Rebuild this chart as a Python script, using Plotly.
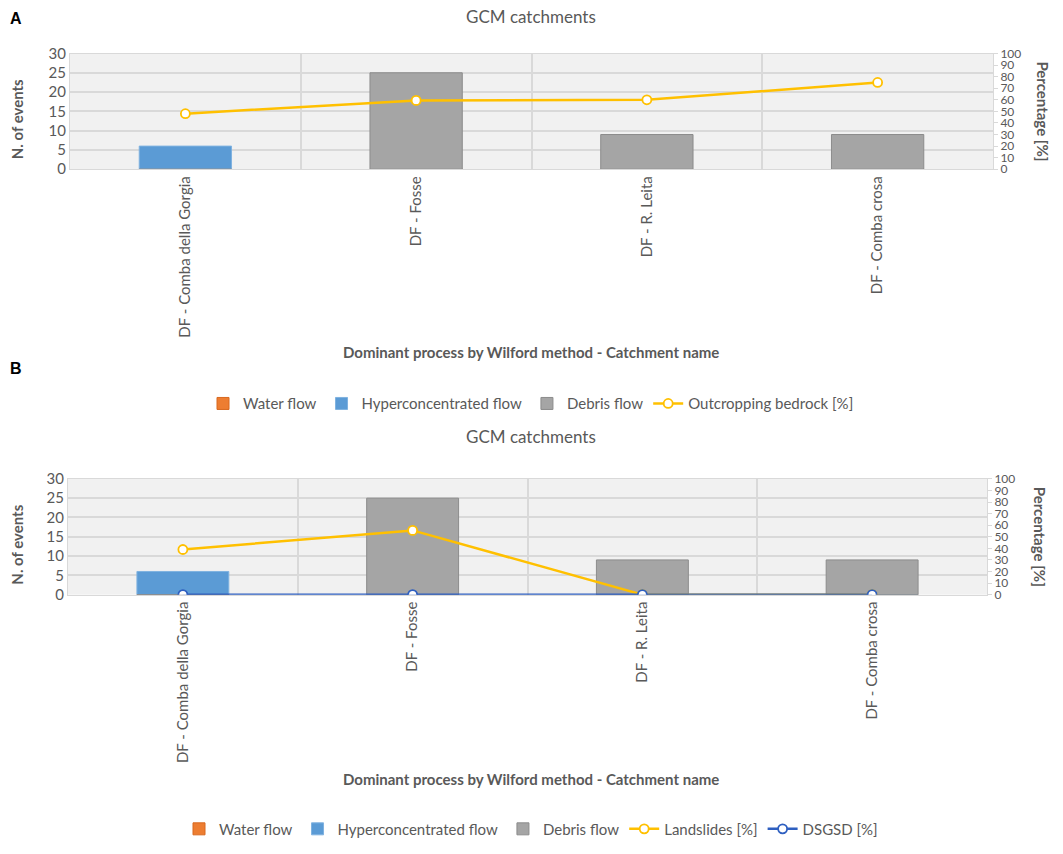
import plotly.graph_objects as go

# Data
catchments = ['DF - Comba della Gorgia', 'DF - Fosse', 'DF - R. Leita', 'DF - Comba crosa']
water_flow = [0, 0, 0, 0]
hyper_flow = [6, 0, 0, 0]
debris_flow = [0, 25, 9, 9]
outcropping = [48, 59.5, 60, 75]
landslides = [39, 55.5, 0, 0]
dsgsd = [0, 0, 0, 0]

FONT = 'Lato'
GREY = '#595959'
GRID = '#d9d9d9'
ORANGE = '#ED7D31'
BLUE = '#5B9BD5'
BAR_GREY = '#A5A5A5'
YELLOW = '#FFC000'
DARK_BLUE = '#2E5FC0'

# the page body has an 8px margin, so the figure is drawn 8px in from the corner
OFF = 8
W = 1063 - 2 * OFF
H = 854 - 2 * OFF


def py(px):
    # pixel row in the window -> paper y
    return 1 - (px - OFF) / H


def px_x(px):
    return (px - OFF) / W


fig = go.Figure()


def add_bars(xa, ya, legend):
    fig.add_trace(go.Bar(x=catchments, y=water_flow, name='Water flow', xaxis=xa, yaxis=ya,
                         marker=dict(color=ORANGE, line=dict(color='#d8691f', width=1)),
                         width=0.4, legend=legend))
    fig.add_trace(go.Bar(x=catchments, y=hyper_flow, name='Hyperconcentrated flow', xaxis=xa, yaxis=ya,
                         marker=dict(color=BLUE, line=dict(color='#7fb2e0', width=1)),
                         width=0.4, legend=legend))
    fig.add_trace(go.Bar(x=catchments, y=debris_flow, name='Debris flow', xaxis=xa, yaxis=ya,
                         marker=dict(color=BAR_GREY, line=dict(color='#8c8c8c', width=1)),
                         width=0.4, legend=legend))


def line_trace(y, name, color, xa, ya, legend):
    return go.Scatter(x=catchments, y=y, name=name, xaxis=xa, yaxis=ya, mode='lines+markers',
                      line=dict(color=color, width=2.5),
                      marker=dict(size=9, color='white', line=dict(color=color, width=1.8)),
                      legend=legend)


# Panel A
add_bars('x', 'y', 'legend')
fig.add_trace(line_trace(outcropping, 'Outcropping bedrock [%]', YELLOW, 'x', 'y2', 'legend'))

# Panel B
add_bars('x2', 'y3', 'legend2')
fig.add_trace(line_trace(landslides, 'Landslides [%]', YELLOW, 'x2', 'y4', 'legend2'))
fig.add_trace(line_trace(dsgsd, 'DSGSD [%]', DARK_BLUE, 'x2', 'y4', 'legend2'))

xcommon = dict(type='category', tickson='boundaries', showgrid=True, gridcolor=GRID, gridwidth=1.5,
               tickangle=-90, ticks='', showline=True, linecolor=GRID, mirror=True,
               tickfont=dict(family=FONT, size=15, color=GREY), automargin=False)
yleft = dict(range=[0, 30], dtick=5, showgrid=True, gridcolor=GRID, gridwidth=1.5,
             tickfont=dict(family=FONT, size=15, color=GREY), showline=True, linecolor=GRID,
             mirror=True, zeroline=False, automargin=False, fixedrange=True)
yright = dict(range=[0, 100], dtick=10, side='right', showgrid=False, zeroline=False,
              ticks='outside', ticklen=4, tickcolor=GRID, tickwidth=1,
              tickfont=dict(family=FONT, size=12, color=GREY), automargin=False)

legend_style = dict(orientation='h', x=px_x(531), xanchor='center', yanchor='middle',
                    font=dict(family=FONT, size=15, color=GREY), itemwidth=30,
                    bgcolor='rgba(0,0,0,0)')

fig.update_layout(
    width=W, height=H,
    margin=dict(l=0, r=0, t=0, b=0),
    paper_bgcolor='white',
    plot_bgcolor='#f1f1f1',
    barmode='overlay',
    xaxis=dict(domain=[px_x(70), px_x(993)], anchor='y', **xcommon),
    yaxis=dict(domain=[py(171), py(54)], anchor='x', **yleft),
    yaxis2=dict(overlaying='y', anchor='x', **yright),
    xaxis2=dict(domain=[px_x(68), px_x(987)], anchor='y3', **xcommon),
    yaxis3=dict(domain=[py(601), py(484)], anchor='x2', **yleft),
    yaxis4=dict(overlaying='y3', anchor='x2', **yright),
    legend=dict(y=py(408), **legend_style),
    legend2=dict(y=py(838), **legend_style),
)

annotations = [
    dict(text='<b>A</b>', x=px_x(8), y=1, xanchor='left', yanchor='top'),
    dict(text='<b>B</b>', x=px_x(8), y=py(372), xanchor='left', yanchor='middle'),
]
for a in annotations:
    a.update(xref='paper', yref='paper', showarrow=False,
             font=dict(family='Liberation Sans', size=16, color='black'))

for top, bottom, title_y, axis_y, leftx, rightx in [(54, 171, 17, 356, 17, 1043), (484, 601, 441, 787, 17, 1040)]:
    mid = (top + bottom) / 2
    annotations.append(dict(text='GCM catchments', x=px_x(531), y=py(title_y), xref='paper', yref='paper',
                            showarrow=False, yanchor='middle',
                            font=dict(family=FONT, size=17, color=GREY)))
    annotations.append(dict(text='<b>Dominant process by Wilford method - Catchment name</b>',
                            x=px_x(531), y=py(axis_y), xref='paper', yref='paper', showarrow=False,
                            yanchor='middle', font=dict(family=FONT, size=15, color=GREY)))
    annotations.append(dict(text='<b>N. of events</b>', x=px_x(leftx), y=py(mid + 8), xref='paper',
                            yref='paper', showarrow=False, textangle=-90, xanchor='center',
                            yanchor='middle', font=dict(family=FONT, size=15, color=GREY)))
    annotations.append(dict(text='<b>Percentage [%]</b>', x=px_x(rightx), y=py(mid), xref='paper',
                            yref='paper', showarrow=False, textangle=90, xanchor='center',
                            yanchor='middle', font=dict(family=FONT, size=15, color=GREY)))

fig.update_layout(annotations=annotations)

fig.write_html('out.html')
